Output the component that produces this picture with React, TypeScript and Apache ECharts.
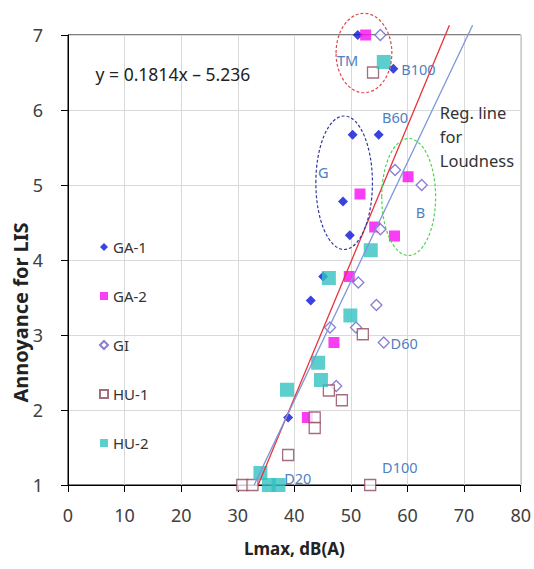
import React, { useEffect, useRef } from "react";
import * as echarts from "echarts";

// ---- data ----
const ga1X = [51.2, 57.5, 50.3, 54.9, 48.6, 49.8, 45.1, 42.9, 38.9];
const ga1Y = [7.0, 6.55, 5.67, 5.67, 4.78, 4.33, 3.78, 3.46, 1.9];

const ga2X = [52.6, 60.1, 51.6, 54.2, 57.7, 49.7, 47.0, 42.3];
const ga2Y = [7.0, 5.11, 4.88, 4.44, 4.32, 3.78, 2.9, 1.9];

const giX = [55.2, 57.8, 62.5, 55.2, 51.3, 54.5, 46.3, 50.9, 55.8, 47.4];
const giY = [7.0, 5.2, 5.0, 4.41, 3.7, 3.4, 3.1, 3.1, 2.9, 2.32];

const hu1X = [53.9, 52.1, 46.1, 48.4, 43.6, 43.6, 38.9, 30.8, 32.6, 53.4];
const hu1Y = [6.5, 3.01, 2.26, 2.13, 1.9, 1.76, 1.4, 1.0, 1.0, 1.0];

const hu2X = [55.8, 53.5, 46.1, 49.9, 44.2, 44.7, 38.7, 34.0, 35.5, 37.2];
const hu2Y = [6.64, 4.13, 3.76, 3.26, 2.63, 2.4, 2.27, 1.16, 1.0, 1.0];

// regression lines (end points)
const redLineX = [33.6, 67.4];
const redLineY = [1.0, 7.13];
const blueLineX = [32.9, 71.5];
const blueLineY = [1.0, 7.13];

const seriesNames = ["GA-1", "GA-2", "GI", "HU-1", "HU-2"];
const equationText = "y = 0.1814x \u2013 5.236";
const regLineText = "Reg. line\nfor\nLoudness";
const xTitle = "Lmax, dB(A)";
const yTitle = "Annoyance for LIS";

// annotations in data units
const groupEllipses = [
  { cx: 52.3, cy: 6.76, rx: 4.93, ry: 0.53, color: "#e0474c" },
  { cx: 48.8, cy: 5.03, rx: 5.0, ry: 0.89, color: "#2e3a9c" },
  { cx: 60.2, cy: 4.84, rx: 4.76, ry: 0.78, color: "#4fd44f" },
];
const pointLabels = [
  { text: "TM", x: 49.4, y: 6.67, align: "center" },
  { text: "B100", x: 58.9, y: 6.55, align: "left" },
  { text: "B60", x: 55.5, y: 5.91, align: "left" },
  { text: "G", x: 45.1, y: 5.18, align: "center" },
  { text: "B", x: 62.3, y: 4.64, align: "center" },
  { text: "D60", x: 57.0, y: 2.9, align: "left" },
  { text: "D20", x: 38.2, y: 1.1, align: "left" },
  { text: "D100", x: 55.5, y: 1.24, align: "left" },
];

const zip = (xs: number[], ys: number[]) => xs.map((x, i) => [x, ys[i]]);

const FONT = "'Noto Sans', 'Open Sans', sans-serif";

export default function App() {
  const ref = useRef<HTMLDivElement>(null);
  useEffect(() => {
    const chart = echarts.init(ref.current!, null, { renderer: "svg" });
    const option: any = {
      animation: false,
      backgroundColor: "#fff",
      textStyle: { fontFamily: FONT },
      grid: {
        left: 68,
        right: 7,
        top: 35,
        bottom: 84,
        show: true,
        borderColor: "#000",
        borderWidth: 1,
        backgroundColor: "transparent",
      },
      legend: {
        data: seriesNames,
        orient: "vertical",
        left: 94,
        top: 233,
        itemWidth: 8,
        itemHeight: 8,
        itemGap: 31,
        textStyle: { fontSize: 15, color: "#333", lineHeight: 18, fontFamily: FONT },
      },
      xAxis: {
        type: "value",
        min: 0,
        max: 80,
        interval: 10,
        name: xTitle,
        nameLocation: "middle",
        nameGap: 55,
        nameTextStyle: { fontSize: 17, fontWeight: "bold", color: "#222", fontFamily: FONT },
        axisLine: { show: true, lineStyle: { color: "#000", width: 1 } },
        axisTick: { show: true, length: 7, lineStyle: { color: "#000" } },
        axisLabel: { fontSize: 18, color: "#404040", margin: 21, fontFamily: FONT },
        splitLine: { show: true, lineStyle: { color: "#d9d9d9", width: 1 } },
      },
      yAxis: {
        type: "value",
        min: 1,
        max: 7,
        interval: 1,
        axisLine: { show: true, lineStyle: { color: "#000", width: 1 } },
        axisTick: { show: true, length: 7, lineStyle: { color: "#000" } },
        axisLabel: { fontSize: 18, color: "#404040", margin: 25, fontFamily: FONT },
        splitLine: { show: true, lineStyle: { color: "#d9d9d9", width: 1 } },
      },
      series: [
        {
          name: "GA-1",
          type: "scatter",
          symbol: "diamond",
          symbolSize: 10,
          clip: false,
          itemStyle: { color: "#0a14d6" },
          data: zip(ga1X, ga1Y),
          z: 2,
        },
        {
          name: "GA-2",
          type: "scatter",
          symbol: "rect",
          symbolSize: 11,
          clip: false,
          itemStyle: { color: "#f70df2" },
          data: zip(ga2X, ga2Y),
          z: 3,
        },
        {
          name: "GI",
          type: "scatter",
          symbol: "diamond",
          symbolSize: 11,
          clip: false,
          itemStyle: { color: "#ffffff", borderColor: "#6a5fc8", borderWidth: 1.3 },
          data: zip(giX, giY),
          z: 4,
        },
        {
          name: "HU-1",
          type: "scatter",
          symbol: "rect",
          symbolSize: 11,
          clip: false,
          itemStyle: { color: "#ffffff", borderColor: "#8e4a5c", borderWidth: 1.3 },
          data: zip(hu1X, hu1Y),
          z: 5,
        },
        {
          name: "HU-2",
          type: "scatter",
          symbol: "rect",
          symbolSize: 14,
          clip: false,
          itemStyle: { color: "#33c2c2" },
          data: zip(hu2X, hu2Y),
          z: 6,
        },
        {
          name: "reg-red",
          type: "line",
          showSymbol: false,
          symbol: "none",
          clip: false,
          lineStyle: { color: "#e8333c", width: 1.3 },
          data: zip(redLineX, redLineY),
          z: 7,
        },
        {
          name: "reg-blue",
          type: "line",
          showSymbol: false,
          symbol: "none",
          clip: false,
          lineStyle: { color: "#7d97d8", width: 1.3 },
          data: zip(blueLineX, blueLineY),
          z: 7,
        },
      ],
    };
    chart.setOption(option);

    const toPx = (x: number, y: number) =>
      chart.convertToPixel({ gridIndex: 0 }, [x, y]) as number[];

    const graphics: any[] = [];
    groupEllipses.forEach((e) => {
      const c = toPx(e.cx, e.cy);
      const px = toPx(e.cx + e.rx, e.cy + e.ry);
      graphics.push({
        type: "ellipse",
        shape: { cx: c[0], cy: c[1], rx: Math.abs(px[0] - c[0]), ry: Math.abs(c[1] - px[1]) },
        style: { fill: "none", stroke: e.color, lineWidth: 1.2, lineDash: [3, 2] },
        z: 10,
      });
    });
    pointLabels.forEach((l) => {
      const p = toPx(l.x, l.y);
      graphics.push({
        type: "text",
        x: p[0],
        y: p[1],
        style: {
          text: l.text,
          fill: "#4f7fbf",
          font: `14.5px ${FONT}`,
          textAlign: l.align,
          textVerticalAlign: "middle",
        },
        z: 11,
      });
    });
    const eq = toPx(4.88, 6.48);
    graphics.push({
      type: "text",
      x: eq[0],
      y: eq[1],
      style: { text: equationText, fill: "#222", font: `17.5px ${FONT}`, textAlign: "left", textVerticalAlign: "middle" },
      z: 11,
    });
    const rl = toPx(65.7, 6.13);
    graphics.push({
      type: "text",
      x: rl[0],
      y: rl[1],
      style: {
        text: regLineText,
        fill: "#333",
        font: `16.5px ${FONT}`,
        lineHeight: 24,
        textAlign: "left",
        textVerticalAlign: "top",
      },
      z: 11,
    });
    // y-axis title (positioned as in the reference, below the plot centre)
    const yt = toPx(0, 3.3);
    graphics.push({
      type: "text",
      x: 20,
      y: yt[1],
      rotation: Math.PI / 2,
      style: {
        text: yTitle,
        fill: "#222",
        font: `bold 20px ${FONT}`,
        textAlign: "center",
        textVerticalAlign: "middle",
      },
      z: 11,
    });
    chart.setOption({ graphic: graphics });

    return () => chart.dispose();
  }, []);
  return (
    <div
      ref={ref}
      style={{ position: "absolute", left: 0, top: 0, width: 534, height: 569 }}
    />
  );
}
